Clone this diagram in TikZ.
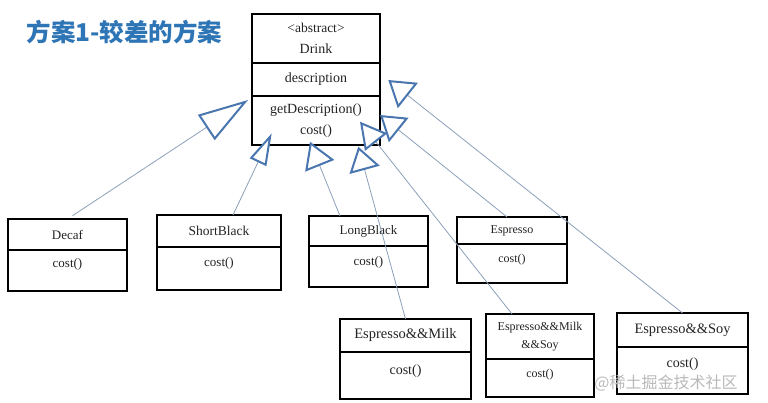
\documentclass[tikz,border=0pt]{standalone}
\usepackage{fontspec}
\setmainfont{Liberation Serif}
\newfontfamily\cjk{Noto Sans CJK SC}
\usetikzlibrary{arrows.meta, positioning}
\definecolor{titleblue}{RGB}{46,117,182}
\definecolor{tipblue}{RGB}{74,118,176}
\definecolor{wire}{RGB}{140,160,185}
\definecolor{ink}{RGB}{35,35,35}
\tikzset{
  box/.style={draw, line width=1.4pt, outer sep=0pt, inner sep=0pt, text=ink},
  cls/.style={box, align=center},
  ops/.style={box, text height=19pt},
  isa/.style 2 args={draw=wire, line width=0.8pt,
    -{Triangle[open, fill=white, color=tipblue, line width=2pt, length=#1, width=#2]}}
}

\begin{document}
\begin{tikzpicture}[x=1pt, y=-1pt]
\useasboundingbox (0,0) rectangle (768,402);

% title
\node at (124.5,32) [text=titleblue, font=\cjk\bfseries\fontsize{24.5}{28}\selectfont] (title) {方案1-较差的方案};

% abstract class
\node at (316,38.5) [cls, minimum width=128pt, minimum height=49pt, font=\fontsize{14}{21}\selectfont] (drinkN) {{\fontsize{13.5}{21}\selectfont <abstract>}\\Drink};
\node [cls, below=0pt of drinkN, minimum width=128pt, minimum height=33pt, font=\fontsize{14}{21}\selectfont] (drinkA) {description};
\node [cls, below=0pt of drinkA, minimum width=128pt, minimum height=49pt, font=\fontsize{14}{21}\selectfont] (drinkM) {getDescription()\\cost()};

% first row
\node at (67.5,234.5) [cls, minimum width=119pt, minimum height=31pt, font=\fontsize{13}{15}\selectfont] (decafH) {Decaf};
\node [ops, below=0pt of decafH, minimum width=119pt, text height=17pt, text depth=24pt, font=\fontsize{13}{15}\selectfont] (decafB) {cost()};

\node at (219,231) [cls, minimum width=124pt, minimum height=32pt, font=\fontsize{13.5}{15}\selectfont] (shortH) {ShortBlack};
\node [ops, below=0pt of shortH, minimum width=124pt, text depth=24pt, font=\fontsize{13}{15}\selectfont] (shortB) {cost()};

\node at (368.5,231) [cls, minimum width=119pt, minimum height=30pt, font=\fontsize{13}{15}\selectfont] (longH) {LongBlack};
\node [ops, below=0pt of longH, minimum width=119pt, text depth=22pt, font=\fontsize{13}{15}\selectfont] (longB) {cost()};

\node at (512,230.5) [cls, minimum width=110pt, minimum height=27pt, font=\fontsize{12}{14}\selectfont] (espH) {Espresso};
\node [ops, below=0pt of espH, minimum width=110pt, text height=18pt, text depth=21pt, font=\fontsize{12}{14}\selectfont] (espB) {cost()};

% second row
\node at (405.5,335.5) [cls, minimum width=131pt, minimum height=33pt, font=\fontsize{14.5}{16}\selectfont] (milkH) {Espresso\&\&Milk};
\node [ops, below=0pt of milkH, minimum width=131pt, text height=22pt, text depth=25pt, font=\fontsize{14}{16}\selectfont] (milkB) {cost()};

\node at (540,336.5) [cls, minimum width=108pt, minimum height=45pt, font=\fontsize{12}{18}\selectfont] (milkSoyH) {Espresso\&\&Milk\\\&\&Soy};
\node [ops, below=0pt of milkSoyH, minimum width=108pt, text height=18pt, text depth=20pt, font=\fontsize{12}{14}\selectfont] (milkSoyB) {cost()};

\node at (682.5,330) [cls, minimum width=131pt, minimum height=34pt, font=\fontsize{14.4}{16}\selectfont] (soyH) {Espresso\&\&Soy};
\node [ops, below=0pt of soyH, minimum width=131pt, text height=20pt, text depth=27pt, font=\fontsize{14}{16}\selectfont] (soyB) {cost()};

% inheritance
\coordinate (tDecaf) at (248,100);
\coordinate (tShort) at (271.7,133.3);
\coordinate (tLong) at (310,141.7);
\coordinate (tMilk) at (358.3,146.7);
\coordinate (tMilkSoy) at (360,121.7);
\coordinate (tEsp) at (380,115);
\coordinate (tSoy) at (388.3,80);

\draw [isa={50pt}{30pt}, shorten <=6pt] (decafH.north) -- (tDecaf);
\draw [isa={32pt}{18pt}] ([xshift=14pt]shortH.north) -- (tShort);
\draw [isa={26pt}{31pt}] ([xshift=-28.5pt]longH.north) -- (tLong);
\draw [isa={24pt}{31pt}] (milkH.north) -- (tMilk);
\draw [isa={26pt}{28pt}] ([xshift=-28pt]milkSoyH.north) -- (tMilkSoy);
\draw [isa={24pt}{31pt}] ([xshift=-5pt]espH.north) -- (tEsp);
\draw [isa={25pt}{32pt}] (soyH.north) -- (tSoy);

\node at (666,383) [text=gray!55, font=\cjk\fontsize{16}{18}\selectfont] (mark) {@稀土掘金技术社区};
\end{tikzpicture}
\end{document}
